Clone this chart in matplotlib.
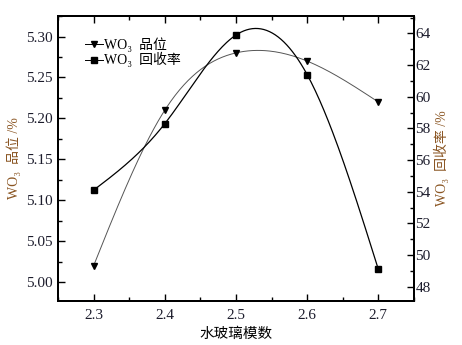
import matplotlib.pyplot as plt
import numpy as np
from matplotlib.ticker import MultipleLocator

# data
modulus = [2.3, 2.4, 2.5, 2.6, 2.7]
grade = [5.02, 5.21, 5.28, 5.27, 5.22]          # WO3 grade, %
recovery = [54.1, 58.3, 63.9, 61.4, 49.1]       # WO3 recovery, %


def natural_spline(x, y, xs):
    # plain natural cubic spline, no scipy
    x = np.asarray(x, float)
    y = np.asarray(y, float)
    n = len(x)
    h = np.diff(x)
    A = np.zeros((n, n))
    b = np.zeros(n)
    A[0, 0] = A[-1, -1] = 1
    for i in range(1, n - 1):
        A[i, i - 1] = h[i - 1]
        A[i, i] = 2 * (h[i - 1] + h[i])
        A[i, i + 1] = h[i]
        b[i] = 3 * ((y[i + 1] - y[i]) / h[i] - (y[i] - y[i - 1]) / h[i - 1])
    c = np.linalg.solve(A, b)
    out = np.empty_like(xs)
    for k, xv in enumerate(xs):
        i = min(np.searchsorted(x, xv, side='right') - 1, n - 2)
        i = max(i, 0)
        dx = xv - x[i]
        bb = (y[i + 1] - y[i]) / h[i] - h[i] * (2 * c[i] + c[i + 1]) / 3
        d = (c[i + 1] - c[i]) / (3 * h[i])
        out[k] = y[i] + bb * dx + c[i] * dx ** 2 + d * dx ** 3
    return out


fonts = ['Liberation Serif', 'Noto Sans CJK SC', 'DejaVu Serif']
plt.rcParams['font.family'] = fonts

fig = plt.figure(figsize=(4.62, 3.45), dpi=100)
ax = fig.add_axes([0.1255, 0.1275, 0.7705, 0.826])
ax2 = ax.twinx()

xs = np.linspace(min(modulus), max(modulus), 200)

ax.plot(xs, natural_spline(modulus, grade, xs), color='#555555', lw=0.7)
ax.plot(modulus, grade, 'v', color='black', ms=5)
ax2.plot(xs, natural_spline(modulus, recovery, xs), color='black', lw=0.9)
ax2.plot(modulus, recovery, 's', color='black', ms=4)

ax.set_xlim(2.25, 2.75)
ax.set_ylim(4.977, 5.325)
ax2.set_ylim(47.1, 65.1)

ax.xaxis.set_major_locator(MultipleLocator(0.1))
ax.xaxis.set_minor_locator(MultipleLocator(0.05))
ax.yaxis.set_major_locator(MultipleLocator(0.05))
ax.yaxis.set_minor_locator(MultipleLocator(0.025))
ax2.yaxis.set_major_locator(MultipleLocator(2))
ax2.yaxis.set_minor_locator(MultipleLocator(1))
ax.yaxis.set_major_formatter(plt.FormatStrFormatter('%.2f'))

tick_color = '#1c1c2c'
ax.tick_params(axis='x', which='both', direction='in', top=True, labelsize=11,
               labelcolor=tick_color, pad=6)
ax.tick_params(axis='y', which='both', direction='in', labelsize=11,
               labelcolor=tick_color)
ax2.tick_params(axis='y', which='both', direction='in', labelsize=11,
                labelcolor=tick_color, pad=1)
ax.tick_params(which='major', length=5, width=1)
ax.tick_params(which='minor', length=3, width=1)
ax2.tick_params(which='major', length=5, width=1)
ax2.tick_params(which='minor', length=3, width=1)
for sp in list(ax.spines.values()) + list(ax2.spines.values()):
    sp.set_linewidth(1.4)

label_color = '#8a5522'
ax.set_xlabel('水玻璃模数', fontsize=10.5, labelpad=4)
ax.set_ylabel('WO₃  品位 /%', fontsize=10, color=label_color, labelpad=4)
ax2.set_ylabel('WO₃  回收率 /%', fontsize=10, color=label_color, labelpad=2)

h1 = ax.plot([], [], '-v', color='black', ms=5, lw=0.7)[0]
h2 = ax2.plot([], [], '-s', color='black', ms=4, lw=0.7)[0]
ax.legend([h1, h2], ['WO₃  品位', 'WO₃  回收率'], loc='upper left',
          bbox_to_anchor=(0.06, 0.945), frameon=False, handlelength=1.3,
          handletextpad=0.1, labelspacing=0.02, borderaxespad=0,
          prop={'size': 10})

fig.savefig('out.png', dpi=100)
